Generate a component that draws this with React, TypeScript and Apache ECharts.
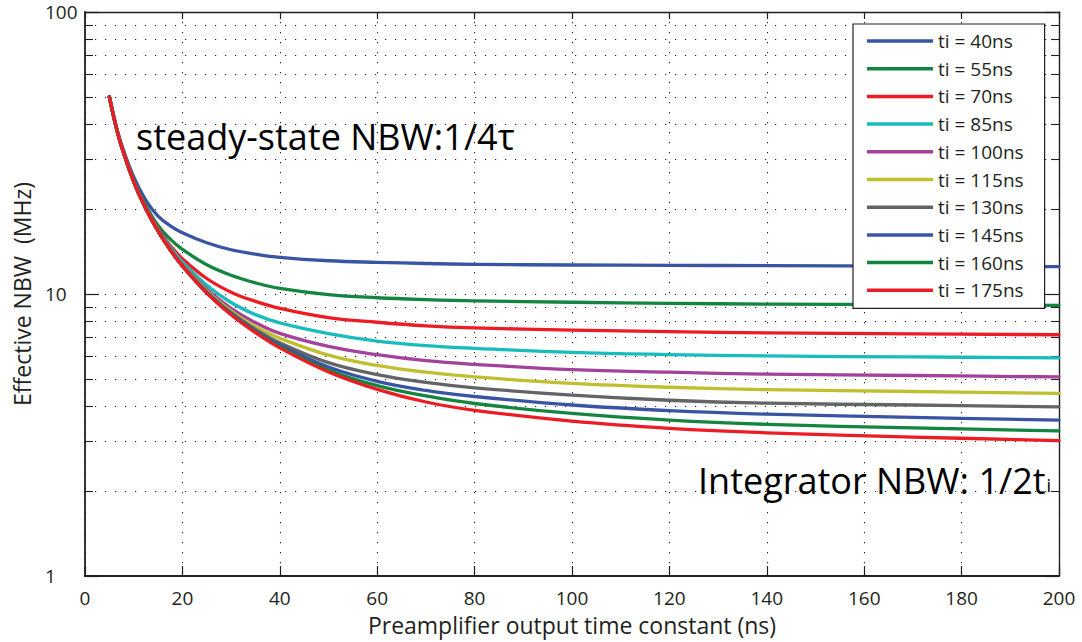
import React, { useEffect, useRef } from "react";
import * as echarts from "echarts";

const FONT = "'Open Sans', 'Noto Sans', sans-serif";
const INK = "#231f20";

// Preamplifier output time constant (ns)
const TAU = [5, 6.25, 7.5, 10, 12.5, 15, 17.5, 20, 25, 30, 35, 40, 50, 60, 70, 80, 100, 120, 140, 170, 200];

const NAMES = [
  "ti = 40ns", "ti = 55ns", "ti = 70ns", "ti = 85ns", "ti = 100ns",
  "ti = 115ns", "ti = 130ns", "ti = 145ns", "ti = 160ns", "ti = 175ns",
];

const COLORS = [
  "#3a54a4", "#138540", "#ed1c24", "#19bcbc", "#a3429b",
  "#c0bf30", "#636466", "#3a54a4", "#138540", "#ed1c24",
];

// Effective NBW (MHz)
const NBW_40 = [50.2, 40.4, 33.9, 26.0, 21.5, 18.9, 17.45, 16.5, 15.2, 14.35, 13.85, 13.49, 13.12, 12.95, 12.83, 12.74, 12.67, 12.64, 12.6, 12.55, 12.5];
const NBW_55 = [50.1, 40.15, 33.55, 25.4, 20.6, 17.5, 15.65, 14.4, 12.7, 11.65, 10.95, 10.47, 9.95, 9.7, 9.55, 9.45, 9.35, 9.27, 9.21, 9.16, 9.12];
const NBW_70 = [50.05, 40.07, 33.44, 25.18, 20.28, 17.08, 14.84, 13.35, 11.35, 10.15, 9.42, 8.9, 8.25, 7.94, 7.71, 7.58, 7.45, 7.35, 7.28, 7.22, 7.17];
const NBW_85 = [50.03, 40.05, 33.39, 25.1, 20.16, 16.9, 14.65, 13.0, 10.75, 9.33, 8.45, 7.9, 7.24, 6.81, 6.56, 6.42, 6.21, 6.1, 6.03, 5.98, 5.94];
const NBW_100 = [50.02, 40.03, 33.37, 25.06, 20.1, 16.81, 14.48, 12.75, 10.39, 8.9, 7.91, 7.25, 6.52, 6.09, 5.8, 5.63, 5.39, 5.28, 5.2, 5.14, 5.08];
const NBW_115 = [50.01, 40.02, 33.35, 25.04, 20.06, 16.76, 14.41, 12.66, 10.26, 8.7, 7.65, 6.97, 6.07, 5.58, 5.28, 5.08, 4.82, 4.67, 4.58, 4.51, 4.44];
const NBW_130 = [50, 40.01, 33.34, 25.03, 20.04, 16.73, 14.37, 12.61, 10.18, 8.59, 7.49, 6.72, 5.71, 5.18, 4.86, 4.65, 4.38, 4.2, 4.1, 4.04, 3.98];
const NBW_145 = [50, 40.01, 33.34, 25.02, 20.03, 16.71, 14.35, 12.58, 10.13, 8.52, 7.39, 6.59, 5.51, 4.9, 4.55, 4.33, 4.04, 3.86, 3.75, 3.65, 3.57];
const NBW_160 = [50, 40, 33.34, 25.01, 20.02, 16.7, 14.33, 12.56, 10.1, 8.47, 7.33, 6.5, 5.38, 4.73, 4.35, 4.09, 3.77, 3.57, 3.45, 3.35, 3.27];
const NBW_175 = [50, 40, 33.33, 25.01, 20.02, 16.69, 14.32, 12.55, 10.07, 8.44, 7.29, 6.44, 5.29, 4.59, 4.14, 3.87, 3.54, 3.34, 3.22, 3.11, 3.02];

const SERIES_VALUES = [NBW_40, NBW_55, NBW_70, NBW_85, NBW_100, NBW_115, NBW_130, NBW_145, NBW_160, NBW_175];

export default function App() {
  const ref = useRef<HTMLDivElement>(null);

  useEffect(() => {
    if (!ref.current) return;
    const chart = echarts.init(ref.current, undefined, { renderer: "svg" });
    const dotted = { color: INK, width: 1.1, type: [1.2, 8.8] as number[] };

    const option: any = {
      animation: false,
      backgroundColor: "#ffffff",
      textStyle: { fontFamily: FONT },
      grid: { left: 85, right: 23, top: 12, bottom: 66, containLabel: false },
      legend: {
        orient: "vertical",
        left: 853,
        top: 24,
        data: NAMES.map((n) => ({ name: n, icon: "rect" })),
        itemWidth: 66,
        itemHeight: 3.5,
        itemGap: 7.7,
        itemTextGap: 8,
        padding: [7, 21, 8, 14],
        backgroundColor: "#ffffff",
        borderColor: INK,
        borderWidth: 1.2,
        borderRadius: 0,
        selectedMode: false,
        textStyle: { fontFamily: FONT, fontSize: 19, color: INK, lineHeight: 20 },
      },
      xAxis: [
        {
          type: "value",
          position: "bottom",
          min: 0,
          max: 200,
          interval: 20,
          name: "Preamplifier output time constant (ns)",
          nameLocation: "middle",
          nameGap: 37,
          nameTextStyle: { fontFamily: FONT, fontSize: 23, color: INK, lineHeight: 24 },
          axisLine: { show: true, onZero: false, lineStyle: { color: INK, width: 1.8 } },
          axisTick: { show: true, inside: true, length: 10, lineStyle: { color: INK, width: 1.2 } },
          axisLabel: { fontFamily: FONT, fontSize: 19, color: INK, margin: 12, lineHeight: 20 },
          splitLine: { show: true, lineStyle: dotted },
        },
        {
          type: "value",
          position: "top",
          min: 0,
          max: 200,
          interval: 20,
          axisLine: { show: true, onZero: false, lineStyle: { color: INK, width: 1.4 } },
          axisTick: { show: true, inside: true, length: 7, lineStyle: { color: INK, width: 1.2 } },
          axisLabel: { show: false },
          splitLine: { show: false },
        },
      ],
      yAxis: [
        {
          type: "log",
          logBase: 10,
          position: "left",
          min: 1,
          max: 100,
          name: "Effective NBW  (MHz)",
          nameLocation: "middle",
          nameRotate: 90,
          nameGap: 52,
          nameTextStyle: { fontFamily: FONT, fontSize: 23, color: INK },
          axisLine: { show: true, onZero: false, lineStyle: { color: INK, width: 1.8 } },
          axisTick: { show: true, inside: true, length: 14, lineStyle: { color: INK, width: 1.2 } },
          minorTick: { show: true, splitNumber: 9, length: 8, lineStyle: { color: INK, width: 1.1 } },
          axisLabel: { fontFamily: FONT, fontSize: 19, color: INK, align: "left", margin: 40 },
          splitLine: { show: true, lineStyle: dotted },
          minorSplitLine: { show: true, lineStyle: dotted },
        },
        {
          type: "log",
          logBase: 10,
          position: "right",
          min: 1,
          max: 100,
          axisLine: { show: true, onZero: false, lineStyle: { color: INK, width: 1.4 } },
          axisTick: { show: true, inside: true, length: 14, lineStyle: { color: INK, width: 1.2 } },
          minorTick: { show: true, splitNumber: 9, length: 8, lineStyle: { color: INK, width: 1.1 } },
          axisLabel: { show: false },
          splitLine: { show: false },
        },
      ],
      series: SERIES_VALUES.map((vals, i) => ({
        name: NAMES[i],
        type: "line",
        xAxisIndex: 0,
        yAxisIndex: 0,
        data: TAU.map((t, j) => [t, vals[j]]),
        symbol: "none",
        showSymbol: false,
        smooth: 0.4,
        lineStyle: { width: 3.3, color: COLORS[i], cap: "round", join: "round" },
        itemStyle: { color: COLORS[i] },
        z: 3,
      })),
      graphic: [
        {
          type: "text",
          x: 136,
          y: 136,
          z: 10,
          style: {
            text: "steady-state NBW:1/4τ",
            fontFamily: FONT,
            fontSize: 36,
            fill: "#000000",
            align: "left",
            verticalAlign: "middle",
          },
        },
        {
          type: "text",
          x: 698,
          y: 480,
          z: 10,
          style: {
            text: "{a|Integrator NBW: 1/2t}{b|i}",
            align: "left",
            verticalAlign: "middle",
            rich: {
              a: { fontFamily: FONT, fontSize: 36, fill: "#000000", lineHeight: 40 },
              b: { fontFamily: FONT, fontSize: 18, fill: "#000000", verticalAlign: "bottom", padding: [0, 0, 6, 1] },
            },
          },
        },
      ],
    };

    chart.setOption(option);
    return () => chart.dispose();
  }, []);

  return (
    <div
      ref={ref}
      style={{ position: "fixed", left: 0, top: 0, width: 1082, height: 642, background: "#fff" }}
    />
  );
}
